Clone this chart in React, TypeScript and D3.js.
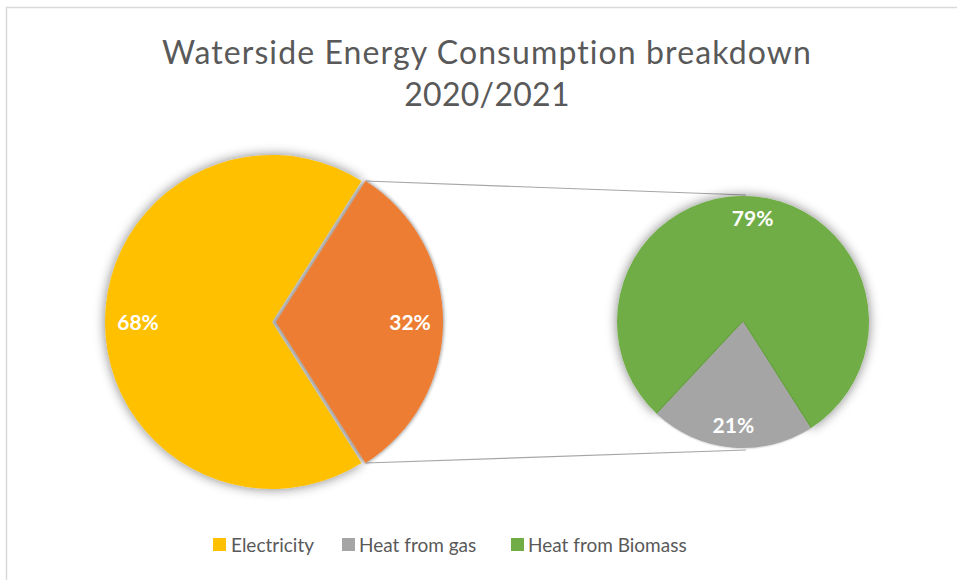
import React from 'react';
import * as d3 from 'd3';

const mainCategories = ['Electricity', 'Other'];
const mainValues = [68, 32];
const subCategories = ['Heat from gas', 'Heat from Biomass'];
const subValues = [21, 79];
const legendLabels = ['Electricity', 'Heat from gas', 'Heat from Biomass'];
const titleLines = ['Waterside Energy Consumption breakdown', '2020/2021'];

const colorMap: Record<string, string> = {
  Electricity: '#FFC000',
  Other: '#ED7D31',
  'Heat from gas': '#A5A5A5',
  'Heat from Biomass': '#70AD47',
};

const W = 957;
const H = 580;
const FONT = 'Lato, "Open Sans", sans-serif';

export default function App() {
  // main pie
  const mc = { x: 272, y: 322 };
  const mr = 167;
  const total = d3.sum(mainValues);
  const otherFrac = mainValues[1] / total;
  const mainStart = Math.PI / 2 + Math.PI * otherFrac;
  const mainPie = d3
    .pie<number>()
    .sort(null)
    .startAngle(mainStart)
    .endAngle(mainStart + 2 * Math.PI)(mainValues);
  const mainArc = d3.arc<d3.PieArcDatum<number>>().innerRadius(0).outerRadius(mr);
  const mainLabelArc = d3.arc<d3.PieArcDatum<number>>().innerRadius(134).outerRadius(134);
  const explode = 4;

  // secondary pie
  const sc = { x: 743, y: 322 };
  const sr = 126;
  const subStart = (147.5 * Math.PI) / 180;
  const subPie = d3
    .pie<number>()
    .sort(null)
    .startAngle(subStart)
    .endAngle(subStart + 2 * Math.PI)(subValues);
  const subArc = d3.arc<d3.PieArcDatum<number>>().innerRadius(0).outerRadius(sr);
  const subLabelArc = d3.arc<d3.PieArcDatum<number>>().innerRadius(104).outerRadius(104);

  const fmt = d3.format('.0%');
  const subTotal = d3.sum(subValues);

  const other = mainPie[1];
  const mid = (other.startAngle + other.endAngle) / 2;
  const ox = explode * Math.sin(mid);
  const oy = -explode * Math.cos(mid);
  const cornerTop = {
    x: mc.x + ox + mr * Math.sin(other.startAngle),
    y: mc.y + oy - mr * Math.cos(other.startAngle),
  };
  const cornerBot = {
    x: mc.x + ox + mr * Math.sin(other.endAngle),
    y: mc.y + oy - mr * Math.cos(other.endAngle),
  };

  const legendSq = [213, 342, 511];
  const legendTx = [231, 359, 528];

  return (
    <svg
      width={W}
      height={H}
      style={{ position: 'absolute', left: 0, top: 0, background: '#fff' }}
    >
      <defs>
        <filter id="sh" x="-30%" y="-30%" width="160%" height="160%">
          <feGaussianBlur in="SourceAlpha" stdDeviation="6" />
          <feComponentTransfer>
            <feFuncA type="linear" slope="0.5" />
          </feComponentTransfer>
          <feMerge>
            <feMergeNode />
            <feMergeNode in="SourceGraphic" />
          </feMerge>
        </filter>
        <filter id="sh3" x="-30%" y="-30%" width="160%" height="160%">
          <feGaussianBlur in="SourceAlpha" stdDeviation="2" />
          <feComponentTransfer>
            <feFuncA type="linear" slope="0.6" />
          </feComponentTransfer>
          <feMerge>
            <feMergeNode />
            <feMergeNode in="SourceGraphic" />
          </feMerge>
        </filter>
        <filter id="sh2" x="-30%" y="-30%" width="160%" height="160%">
          <feGaussianBlur in="SourceAlpha" stdDeviation="1.2" />
          <feComponentTransfer>
            <feFuncA type="linear" slope="0.35" />
          </feComponentTransfer>
          <feMerge>
            <feMergeNode />
            <feMergeNode in="SourceGraphic" />
          </feMerge>
        </filter>
      </defs>
      <rect x={6.5} y={7.5} width={W + 20} height={H + 20} fill="#fff" stroke="#d9d9d9" strokeWidth={1.5} />

      {titleLines.map((t, i) => (
        <text
          key={i}
          x={487}
          y={64 + i * 42}
          textAnchor="middle"
          fontFamily={FONT}
          fontSize={32}
          letterSpacing={i === 0 ? 1.1 : 0.3}
          fill="#595959"
        >
          {t}
        </text>
      ))}

      {/* connectors */}
      <line x1={cornerTop.x} y1={cornerTop.y} x2={sc.x + 3} y2={sc.y - sr - 1} stroke="#a6a6a6" strokeWidth={1.2} />
      <line x1={cornerBot.x} y1={cornerBot.y} x2={sc.x + 3} y2={sc.y + sr + 2} stroke="#a6a6a6" strokeWidth={1.2} />

      {/* main pie */}
      <g transform={`translate(${mc.x},${mc.y})`}>
        <path d={mainArc(mainPie[0]) || ''} fill={colorMap[mainCategories[0]]} filter="url(#sh)" />
        <g transform={`translate(${ox},${oy})`}>
          <path d={mainArc(other) || ''} fill={colorMap[mainCategories[1]]} filter="url(#sh3)" />
        </g>
        {mainPie.map((d, i) => {
          const [lx, ly] = mainLabelArc.centroid(d);
          const dx = i === 1 ? ox : 0;
          const dy = i === 1 ? oy : 0;
          return (
            <text
              key={i}
              x={lx + dx}
              y={ly + dy}
              dy="0.36em"
              textAnchor="middle"
              fontFamily={FONT}
              fontWeight="bold"
              fontSize={21}
              fill="#fff"
            >
              {fmt(d.data / total)}
            </text>
          );
        })}
      </g>

      {/* secondary pie */}
      <g transform={`translate(${sc.x},${sc.y})`}>
        <path d={subArc(subPie[1]) || ''} fill={colorMap[subCategories[1]]} filter="url(#sh)" />
        <path d={subArc(subPie[0]) || ''} fill={colorMap[subCategories[0]]} filter="url(#sh2)" />
        {subPie.map((d, i) => {
          const [lx, ly] = subLabelArc.centroid(d);
          return (
            <text
              key={i}
              x={lx}
              y={ly}
              dy="0.36em"
              textAnchor="middle"
              fontFamily={FONT}
              fontWeight="bold"
              fontSize={21}
              fill="#fff"
            >
              {fmt(d.data / subTotal)}
            </text>
          );
        })}
      </g>

      {/* legend */}
      {legendLabels.map((l, i) => (
        <g key={l}>
          <rect x={legendSq[i]} y={538} width={13} height={13} fill={colorMap[l]} />
          <text x={legendTx[i]} y={552} fontFamily={FONT} fontSize={19} fill="#595959">
            {l}
          </text>
        </g>
      ))}
    </svg>
  );
}
